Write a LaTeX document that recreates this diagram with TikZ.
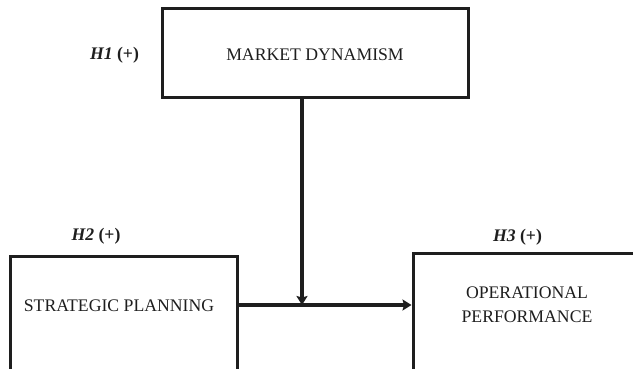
\documentclass[tikz,border=0pt]{standalone}
\usepackage{fontspec}
\setmainfont{Liberation Serif}
\usetikzlibrary{arrows.meta}
\definecolor{ink}{HTML}{1E1E1E}
\tikzset{
  boxst/.style={draw=ink, line width=3pt, inner sep=0pt},
  lbl/.style={text=ink, font=\fontsize{17.7}{24}\selectfont, inner sep=0pt, align=center},
  arr/.style={draw=ink, line width=3.4pt, -{Stealth[length=9pt,width=11pt,inset=1.5pt]}}
}
\begin{document}
\begin{tikzpicture}[x=1pt,y=-1pt]
\useasboundingbox (0,0) rectangle (633,369);
\clip (0,0) rectangle (633,369);
% boxes
\node[boxst, minimum width=306pt, minimum height=89pt] (md) at (315,53.5) {};
\node[boxst, minimum width=227pt, minimum height=160pt] (sp) at (123.5,336) {};
\node[boxst, minimum width=260pt, minimum height=160pt] (op) at (543,333) {};
% texts
\node[lbl] (mdt) at (315,55) {MARKET DYNAMISM};
\node[lbl] (spt) at (119,306) {STRATEGIC PLANNING};
\node[lbl] (opt) at (527,305) {OPERATIONAL\\PERFORMANCE};
\node[lbl] (h1) at (114.5,55) {\textbf{\textit{H1}} \textbf{(+)}};
\node[lbl] (h2) at (96,236) {\textbf{\textit{H2}} \textbf{(+)}};
\node[lbl] (h3) at (517.5,237) {\textbf{\textit{H3}} \textbf{(+)}};
% connectors
\coordinate (j) at (302,305);
\draw[arr] (sp.east |- j) -- (op.west |- j);
\draw[arr] (md.south -| j) -- (j);
\end{tikzpicture}
\end{document}
